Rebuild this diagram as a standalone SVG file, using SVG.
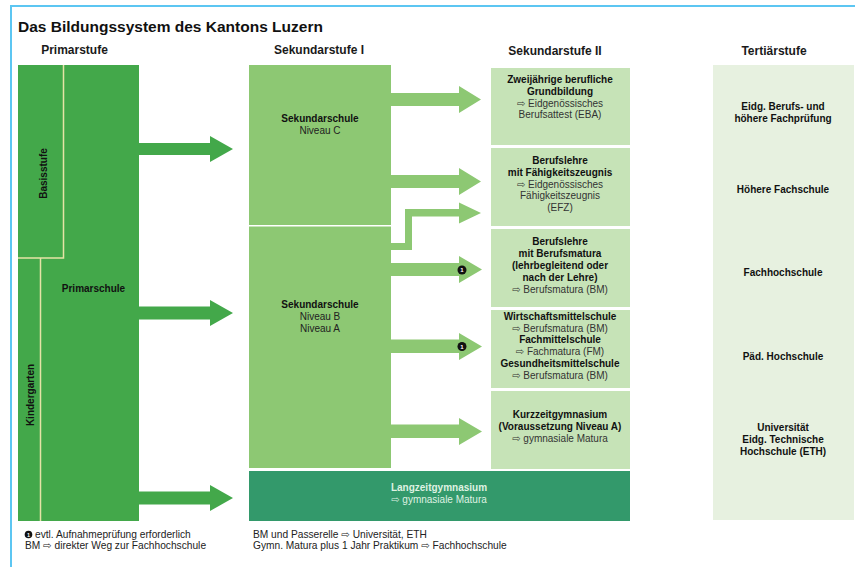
<svg xmlns="http://www.w3.org/2000/svg" width="855" height="567" viewBox="0 0 855 567">
  <style>
    text { font-family: "Liberation Sans", "DejaVu Sans", Arial, sans-serif; }
    .title { font-size: 15.5px; font-weight: bold; fill: #111; }
    .head { font-size: 12px; font-weight: bold; fill: #1a1a1a; text-anchor: middle; }
    .b { font-size: 10px; font-weight: bold; fill: #111; text-anchor: middle; }
    .r { font-size: 10px; fill: #333; text-anchor: middle; }
    .lb { font-size: 10px; font-weight: bold; fill: #dff2e2; text-anchor: middle; }
    .lr { font-size: 10px; fill: #dff2e2; text-anchor: middle; }
    .note { font-size: 10.2px; fill: #222; }
    .sep { stroke: #e6e3a6; stroke-width: 1.5; fill: none; }
    .prim { fill: #43a84a; }
    .sek1 { fill: #8dc873; }
    .sek2 { fill: #c6e3b7; }
    .lang { fill: #33996b; }
    .tert { fill: #e7f1e0; }
    .dot { fill: #111; }
    .dotnum { font-size: 6px; font-weight: bold; fill: #fff; text-anchor: middle; }
  </style>

  <rect width="855" height="567" fill="#fff"/>

  <!-- frame lines -->
  <path d="M11 567 V6 H855" fill="none" stroke="#5cc6f2" stroke-width="2"/>

  <!-- title and column headings -->
  <text class="title" x="18" y="32">Das Bildungssystem des Kantons Luzern</text>
  <text class="head" x="74.5" y="54">Primarstufe</text>
  <text class="head" x="319" y="54">Sekundarstufe I</text>
  <text class="head" x="555" y="55">Sekundarstufe II</text>
  <text class="head" x="774" y="55">Tertiärstufe</text>

  <!-- Primarstufe -->
  <g id="primarstufe">
    <rect class="prim" x="18" y="65" width="121" height="456"/>
    <path class="sep" d="M63.5 65 V258 H18"/>
    <path class="sep" d="M40.5 258 V521"/>
  </g>
  <g id="basisstufe">
    <text class="b" transform="translate(46.5,173.5) rotate(-90)">Basisstufe</text>
  </g>
  <g id="kindergarten">
    <text class="b" transform="translate(33.5,395) rotate(-90)">Kindergarten</text>
  </g>
  <g id="primarschule">
    <text class="b" x="93.5" y="292">Primarschule</text>
  </g>

  <!-- Sekundarstufe I -->
  <g id="sekundarschule-c">
    <rect class="sek1" x="249" y="65" width="142" height="160"/>
    <text class="b" x="320" y="122">Sekundarschule</text>
    <text class="r" x="320" y="134" style="fill:#222">Niveau C</text>
  </g>
  <g id="sekundarschule-ab">
    <rect class="sek1" x="249" y="226.5" width="142" height="241.5"/>
    <text class="b" x="320" y="308">Sekundarschule</text>
    <text class="r" x="320" y="320" style="fill:#222">Niveau B</text>
    <text class="r" x="320" y="332" style="fill:#222">Niveau A</text>
  </g>
  <g id="langzeitgymnasium">
    <rect class="lang" x="249" y="471" width="381" height="50"/>
    <text class="lb" x="439" y="491">Langzeitgymnasium</text>
    <text class="lr" x="439" y="503">⇨ gymnasiale Matura</text>
  </g>

  <!-- Sekundarstufe II -->
  <g id="eba">
    <rect class="sek2" x="491" y="68" width="139" height="77"/>
    <text class="b" x="560" y="83">Zweijährige berufliche</text>
    <text class="b" x="560" y="95">Grundbildung</text>
    <text class="r" x="560" y="107">⇨ Eidgenössisches</text>
    <text class="r" x="560" y="118">Berufsattest (EBA)</text>
  </g>
  <g id="efz">
    <rect class="sek2" x="491" y="148" width="139" height="78"/>
    <text class="b" x="560" y="164">Berufslehre</text>
    <text class="b" x="560" y="176">mit Fähigkeitszeugnis</text>
    <text class="r" x="560" y="188">⇨ Eidgenössisches</text>
    <text class="r" x="560" y="199">Fähigkeitszeugnis</text>
    <text class="r" x="560" y="211">(EFZ)</text>
  </g>
  <g id="berufsmatura">
    <rect class="sek2" x="491" y="229" width="139" height="78"/>
    <text class="b" x="560" y="245">Berufslehre</text>
    <text class="b" x="560" y="257">mit Berufsmatura</text>
    <text class="b" x="560" y="269">(lehrbegleitend oder</text>
    <text class="b" x="560" y="281">nach der Lehre)</text>
    <text class="r" x="560" y="293">⇨ Berufsmatura (BM)</text>
  </g>
  <g id="mittelschulen">
    <rect class="sek2" x="491" y="310" width="139" height="78"/>
    <text class="b" x="560" y="320">Wirtschaftsmittelschule</text>
    <text class="r" x="560" y="332">⇨ Berufsmatura (BM)</text>
    <text class="b" x="560" y="343">Fachmittelschule</text>
    <text class="r" x="560" y="355">⇨ Fachmatura (FM)</text>
    <text class="b" x="560" y="367">Gesundheitsmittelschule</text>
    <text class="r" x="560" y="379">⇨ Berufsmatura (BM)</text>
  </g>
  <g id="kurzzeitgymnasium">
    <rect class="sek2" x="491" y="391" width="139" height="78"/>
    <text class="b" x="560" y="418">Kurzzeitgymnasium</text>
    <text class="b" x="560" y="430">(Voraussetzung Niveau A)</text>
    <text class="r" x="560" y="442">⇨ gymnasiale Matura</text>
  </g>

  <!-- Tertiärstufe -->
  <g id="tertiaerstufe">
    <rect class="tert" x="713" y="65" width="141" height="455"/>
  </g>
  <g id="berufspruefung">
    <text class="b" x="783" y="110">Eidg. Berufs- und</text>
    <text class="b" x="783" y="122">höhere Fachprüfung</text>
  </g>
  <g id="hoehere-fachschule">
    <text class="b" x="783" y="193">Höhere Fachschule</text>
  </g>
  <g id="fachhochschule">
    <text class="b" x="783" y="276">Fachhochschule</text>
  </g>
  <g id="paed-hochschule">
    <text class="b" x="783" y="360">Päd. Hochschule</text>
  </g>
  <g id="universitaet">
    <text class="b" x="783" y="431">Universität</text>
    <text class="b" x="783" y="443">Eidg. Technische</text>
    <text class="b" x="783" y="455">Hochschule (ETH)</text>
  </g>

  <!-- connectors -->
  <g id="connectors">
    <polygon class="prim" points="139,143 210,143 210,136 233,149 210,162 210,155 139,155"/>
    <polygon class="prim" points="139,306.5 210,306.5 210,300 233,313 210,326 210,319.5 139,319.5"/>
    <polygon class="prim" points="139,491.5 210,491.5 210,485 233,498 210,511 210,504.5 139,504.5"/>

    <polygon class="sek1" points="391,93 459,93 459,86 481,99.5 459,113 459,106 391,106"/>
    <polygon class="sek1" points="391,175 459,175 459,168 481,181.5 459,195 459,188 391,188"/>
    <polygon class="sek1" points="391,243 405,243 405,209 459,209 459,202.5 481,213 459,223.5 459,216.5 412,216.5 412,250 391,250"/>
    <polygon class="sek1" points="391,263 459,263 459,256 482,269.5 459,283 459,276 391,276"/>
    <polygon class="sek1" points="391,339.5 459,339.5 459,333 482,346.5 459,360 459,353 391,353"/>
    <polygon class="sek1" points="391,424.5 459,424.5 459,418 482,431.5 459,445 459,438 391,438"/>

    <circle class="dot" cx="462" cy="270" r="4.5"/>
    <text class="dotnum" x="462" y="272.2">1</text>
    <circle class="dot" cx="462" cy="346.5" r="4.5"/>
    <text class="dotnum" x="462" y="348.7">1</text>
  </g>

  <!-- notes -->
  <circle class="dot" cx="28.5" cy="534.5" r="3.8"/>
  <text class="dotnum" x="28.5" y="536.6" style="font-size:5.5px">1</text>
  <text class="note" x="35" y="538">evtl. Aufnahmeprüfung erforderlich</text>
  <text class="note" x="25" y="549">BM ⇨ direkter Weg zur Fachhochschule</text>
  <text class="note" x="253" y="538">BM und Passerelle ⇨ Universität, ETH</text>
  <text class="note" x="253" y="549">Gymn. Matura plus 1 Jahr Praktikum ⇨ Fachhochschule</text>
</svg>
